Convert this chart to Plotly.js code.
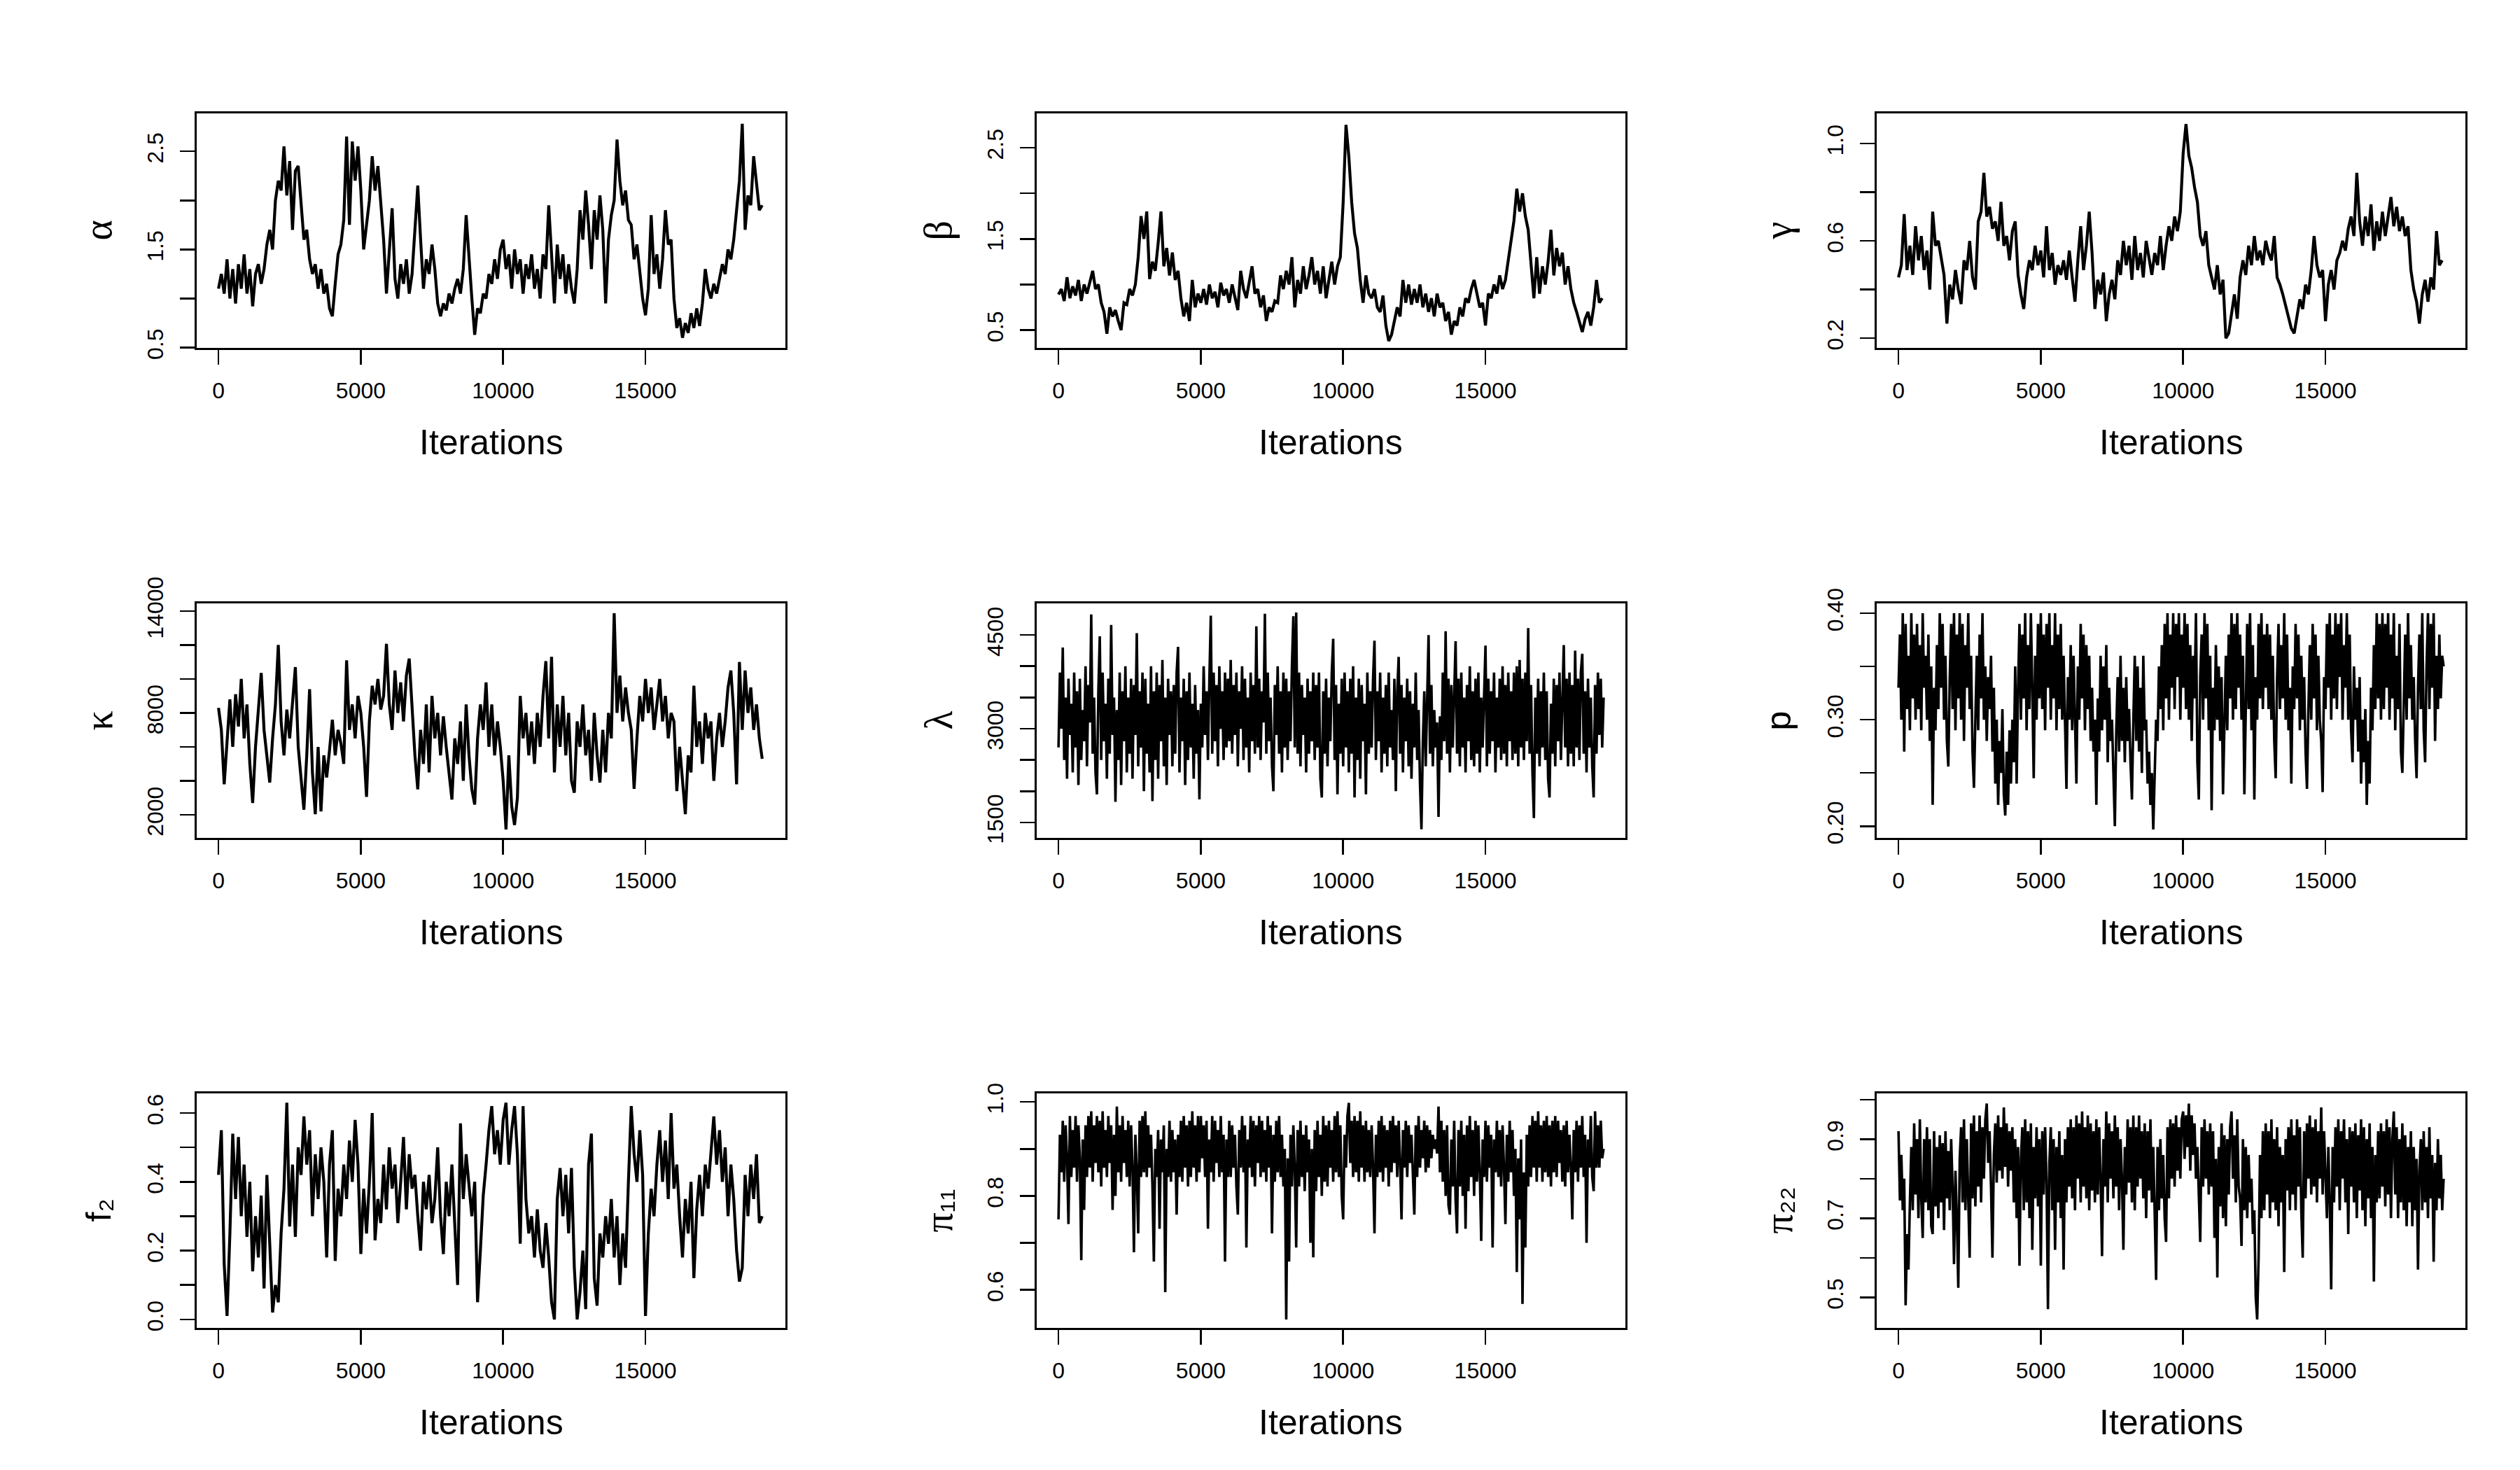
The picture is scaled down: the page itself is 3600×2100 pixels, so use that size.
<!DOCTYPE html>
<html>
<head>
<meta charset="utf-8">
<script src="https://cdn.plot.ly/plotly-3.0.1.min.js"></script>
<style>html,body{margin:0;padding:0;background:#fff;}#chart{width:3600px;height:2100px;}</style>
</head>
<body>
<div id="chart"></div>
<script>
// iterations between stored samples, per panel (alpha..pi22)
const thinning = [100, 100, 100, 100, 50, 50, 100, 50, 50];

const alpha = [
1.10,1.25,1.05,1.40,1.00,1.30,0.95,1.35,1.10,1.45,
1.05,1.30,0.92,1.25,1.35,1.15,1.30,1.55,1.70,1.50,
2.00,2.20,2.10,2.55,2.05,2.40,1.70,2.30,2.35,2.00,
1.60,1.70,1.40,1.25,1.35,1.10,1.30,1.05,1.15,0.90,
0.82,1.15,1.45,1.55,1.80,2.65,1.75,2.60,2.20,2.55,
2.10,1.50,1.75,2.00,2.45,2.10,2.35,1.95,1.60,1.05,
1.45,1.92,1.20,1.00,1.35,1.15,1.40,1.05,1.25,1.75,
2.15,1.60,1.10,1.40,1.25,1.55,1.30,0.95,0.82,0.95,
0.88,1.05,0.95,1.10,1.20,1.05,1.30,1.85,1.40,1.00,
0.63,0.90,0.85,1.05,1.00,1.25,1.15,1.40,1.20,1.50,
1.60,1.30,1.45,1.10,1.50,1.25,1.40,1.05,1.35,1.20,
1.45,1.10,1.30,1.00,1.45,1.30,1.95,1.50,0.95,1.55,
1.20,1.45,1.05,1.35,1.10,0.95,1.30,1.90,1.60,2.10,
1.75,1.30,1.90,1.60,2.05,1.70,0.95,1.60,1.85,2.00,
2.62,2.20,1.95,2.10,1.80,1.75,1.40,1.55,1.30,1.00,
0.83,1.10,1.85,1.25,1.45,1.10,1.40,1.90,1.55,1.60,
1.00,0.70,0.80,0.60,0.75,0.65,0.85,0.70,0.90,0.72,
0.95,1.30,1.10,1.00,1.15,1.05,1.20,1.35,1.25,1.50,
1.40,1.60,1.90,2.20,2.78,1.70,2.05,1.95,2.45,2.20,
1.90,1.95];

const beta = [
0.89,0.95,0.82,1.08,0.85,0.98,0.88,1.05,0.82,1.00,
0.90,1.02,1.15,0.95,1.00,0.80,0.70,0.46,0.75,0.65,
0.72,0.60,0.50,0.80,0.78,0.95,0.88,1.00,1.30,1.75,
1.50,1.80,1.06,1.25,1.15,1.45,1.80,1.20,1.40,1.10,
1.35,1.05,1.15,0.85,0.65,0.80,0.60,1.05,0.75,0.90,
0.80,0.95,0.78,1.00,0.85,0.92,0.75,1.02,0.88,0.95,
0.80,1.00,0.85,0.72,1.15,0.95,0.85,1.05,1.20,0.90,
0.95,0.75,0.88,0.60,0.75,0.70,0.82,0.80,1.10,0.95,
1.15,1.00,1.30,0.75,1.05,0.90,1.20,0.95,1.10,1.30,
1.00,1.15,0.90,1.20,0.85,1.05,1.25,1.00,1.20,1.30,
1.90,2.75,2.40,1.90,1.56,1.40,1.05,0.80,1.10,0.90,
0.85,0.95,0.75,0.70,0.88,0.55,0.38,0.45,0.60,0.75,
0.65,1.05,0.80,1.00,0.78,0.95,0.80,1.00,0.75,0.90,
0.70,0.85,0.65,0.90,0.75,0.80,0.60,0.70,0.45,0.60,
0.55,0.75,0.65,0.85,0.80,0.95,1.05,0.90,0.75,0.80,
0.55,0.90,0.85,1.00,0.90,1.10,0.95,1.05,1.25,1.45,
1.70,2.05,1.80,2.00,1.75,1.60,1.20,0.85,1.30,0.90,
1.20,1.00,1.25,1.60,1.10,1.40,1.20,1.35,1.00,1.20,
0.95,0.80,0.70,0.60,0.48,0.62,0.70,0.55,0.75,1.05,
0.80,0.85];

const gamma = [
0.45,0.50,0.71,0.48,0.58,0.46,0.66,0.52,0.62,0.48,
0.56,0.40,0.72,0.58,0.60,0.52,0.46,0.26,0.42,0.36,
0.48,0.40,0.34,0.52,0.48,0.60,0.45,0.40,0.68,0.72,
0.88,0.70,0.74,0.65,0.68,0.60,0.76,0.58,0.62,0.52,
0.64,0.68,0.46,0.38,0.32,0.45,0.52,0.48,0.58,0.50,
0.56,0.45,0.66,0.48,0.55,0.42,0.50,0.46,0.52,0.44,
0.56,0.45,0.35,0.52,0.66,0.48,0.58,0.72,0.55,0.32,
0.44,0.38,0.47,0.27,0.38,0.44,0.36,0.52,0.46,0.60,
0.50,0.58,0.44,0.62,0.48,0.55,0.45,0.60,0.52,0.46,
0.55,0.50,0.62,0.48,0.58,0.66,0.60,0.70,0.64,0.72,
0.96,1.08,0.95,0.90,0.82,0.76,0.62,0.58,0.64,0.50,
0.45,0.40,0.50,0.38,0.44,0.20,0.22,0.30,0.38,0.28,
0.45,0.52,0.46,0.58,0.50,0.62,0.52,0.56,0.50,0.60,
0.55,0.52,0.62,0.45,0.42,0.38,0.33,0.28,0.24,0.22,
0.30,0.36,0.32,0.42,0.38,0.48,0.62,0.50,0.45,0.48,
0.27,0.42,0.48,0.40,0.52,0.55,0.60,0.56,0.65,0.70,
0.62,0.88,0.68,0.58,0.70,0.62,0.75,0.56,0.68,0.60,
0.72,0.62,0.70,0.78,0.66,0.74,0.64,0.70,0.62,0.66,
0.48,0.40,0.35,0.26,0.38,0.44,0.35,0.45,0.40,0.64,
0.50,0.52];

const kappa = [
8300,7000,3800,6500,8800,6000,9100,7200,10000,6500,
8500,5000,2700,6000,8000,10350,7000,5500,3900,6500,
8500,12000,7500,5500,8200,6500,8800,10700,6000,4000,
2300,5500,9400,4500,2040,6000,2200,5500,4200,5800,
7600,5500,7000,6200,5000,11100,7000,8500,6500,9000,
8000,6000,3060,7500,9600,8500,10000,8200,9000,12070,
8500,7000,10500,8000,9800,7500,10200,11200,8500,5500,
3500,7000,5000,8500,4500,9000,6500,8000,5500,7800,
6000,4500,2900,6500,5000,7500,4000,8500,5500,3500,
2600,6500,8500,7000,9800,6000,8500,5500,7500,6000,
4000,1140,5500,2500,1400,3000,9000,6500,8000,5500,
7500,5000,8000,6000,9000,11050,6500,11300,4500,8500,
6000,9000,5500,8000,4000,3300,7500,6000,8500,5500,
7000,4000,8000,5500,3900,7000,4500,8000,6500,13870,
8000,10200,7500,9500,8000,7000,3530,6500,9000,7500,
10000,8000,9500,7000,8500,10000,7500,9000,6500,8000,
7500,3400,6000,4000,2040,5500,4500,9600,6000,7500,
5000,8000,6500,7500,4000,6500,8000,6000,7500,9500,
10500,8000,3800,11000,7000,10500,8000,9500,7000,8500,
6500,5300];

const lambda = [
2700,3900,3000,4300,2500,3500,2200,3800,2900,3400,2300,3900,2700,3600,2100,3800,2500,3300,2800,4000,
2400,3700,3100,4830,2600,3500,2300,1950,3600,4480,2500,3900,2800,3400,2200,3800,2600,4660,2900,3500,
1830,3300,2500,3900,2100,3600,2800,4000,2300,3500,2600,3800,2200,3700,2900,4530,2400,3600,2700,3900,
2000,3800,2600,3400,2300,4000,1840,3600,2500,3900,2200,3700,2800,4100,2400,3500,2100,3800,2900,3600,
2400,3700,2600,3900,4310,2300,3500,2800,3800,2100,3600,2500,3900,2700,3400,2200,3700,2600,3300,1870,
3400,2700,4000,2900,3600,2500,3800,4810,2600,3900,2800,3700,2400,4000,3000,3600,2500,3900,2700,3800,
2800,4100,2600,3700,2900,3900,2400,3600,3000,4000,2500,3800,2700,3500,2300,3900,2800,3700,2600,4640,
2700,3800,2500,3600,3100,4840,2600,3900,2800,3500,2400,2000,3700,2900,4000,2600,3600,2300,3900,2700,
3800,2500,3600,2800,4000,4800,2700,4860,2600,3900,2400,3700,2900,3500,2300,3800,2600,3600,2800,3900,
2500,3700,2700,3900,2200,1900,3600,2600,3800,2400,3500,2800,3900,4440,2500,3700,1950,3400,2600,3800,
2400,3900,2700,3600,2300,3800,2600,4000,1900,3500,2500,3800,2200,3700,2800,3400,1950,3900,2600,3600,
2700,3800,4410,2500,3600,2800,3900,2300,3500,2600,3700,2400,3900,2700,3300,2500,3800,2000,3600,4150,
2600,3700,2300,3500,2800,3800,2400,3600,2200,3400,2700,3900,2500,3300,2100,1390,2800,3600,2400,3500,
4500,2600,3700,2400,3300,2700,3100,1590,3200,2500,3900,2800,4560,2600,3800,2300,3700,2700,3500,4400,
2600,3800,2400,3900,2700,3500,2300,3700,2800,4000,2500,3600,2400,3800,2600,3900,2300,3500,2700,3700,
4330,2400,3800,2600,3600,2800,3900,2300,3500,2700,3800,2500,4000,2600,3700,2400,3900,2800,3600,2500,
3900,2600,4000,2400,4100,2700,3800,2500,3900,2800,4610,2600,3700,2300,1570,3500,2600,3800,2400,3600,
2700,3900,2500,3600,2200,1900,3400,2600,3800,2400,3700,2800,3900,2500,3600,4340,2700,3800,2400,3900,
2600,3700,2400,4250,2700,3800,2500,3900,4200,2600,3600,2300,3800,2700,3500,2400,1900,3700,2600,3900,
2900,3800,2700,3500];

const pVals = [
0.33,0.38,0.30,0.40,0.27,0.39,0.31,0.36,0.29,0.40,0.32,0.38,0.30,0.39,0.31,0.37,0.29,0.40,0.33,0.36,
0.30,0.38,0.28,0.35,0.22,0.33,0.29,0.37,0.31,0.40,0.33,0.39,0.30,0.36,0.28,0.256,0.34,0.39,0.31,0.40,
0.29,0.38,0.32,0.40,0.30,0.39,0.28,0.37,0.33,0.40,0.31,0.36,0.27,0.236,0.30,0.36,0.29,0.38,0.32,0.40,
0.30,0.35,0.28,0.34,0.31,0.36,0.27,0.33,0.24,0.30,0.22,0.28,0.25,0.31,0.23,0.21,0.27,0.22,0.29,0.24,
0.30,0.26,0.35,0.24,0.33,0.39,0.30,0.38,0.32,0.40,0.29,0.37,0.31,0.40,0.33,0.245,0.36,0.30,0.39,0.32,
0.40,0.31,0.38,0.29,0.39,0.33,0.40,0.30,0.37,0.32,0.40,0.29,0.38,0.31,0.39,0.30,0.36,0.28,0.235,0.34,
0.30,0.37,0.29,0.36,0.31,0.24,0.35,0.30,0.39,0.32,0.38,0.29,0.37,0.31,0.36,0.28,0.33,0.27,0.30,0.22,
0.32,0.27,0.36,0.29,0.35,0.30,0.37,0.26,0.33,0.28,0.30,0.24,0.20,0.29,0.34,0.27,0.36,0.28,0.33,0.26,
0.34,0.28,0.31,0.26,0.225,0.30,0.36,0.28,0.35,0.27,0.33,0.25,0.36,0.29,0.30,0.24,0.27,0.22,0.25,0.197,
0.24,0.30,0.28,0.35,0.31,0.37,0.29,0.39,0.32,0.40,0.30,0.38,0.33,0.40,0.31,0.39,0.34,0.40,0.30,0.38,
0.33,0.40,0.31,0.39,0.30,0.37,0.28,0.36,0.32,0.40,0.26,0.225,0.34,0.38,0.30,0.40,0.32,0.39,0.29,0.36,
0.215,0.33,0.29,0.37,0.30,0.35,0.28,0.34,0.23,0.31,0.36,0.29,0.38,0.32,0.40,0.30,0.39,0.31,0.40,0.33,
0.38,0.30,0.36,0.23,0.33,0.39,0.31,0.40,0.29,0.37,0.225,0.34,0.30,0.39,0.32,0.40,0.31,0.38,0.33,0.39,
0.31,0.38,0.30,0.36,0.28,0.245,0.34,0.39,0.31,0.37,0.32,0.40,0.30,0.38,0.29,0.33,0.24,0.35,0.31,0.39,
0.32,0.38,0.29,0.36,0.30,0.34,0.27,0.235,0.31,0.37,0.30,0.39,0.32,0.38,0.29,0.36,0.30,0.28,0.232,0.34,
0.31,0.39,0.33,0.40,0.30,0.38,0.32,0.40,0.31,0.39,0.34,0.40,0.30,0.37,0.33,0.40,0.30,0.38,0.29,0.26,
0.35,0.30,0.33,0.27,0.34,0.24,0.30,0.26,0.31,0.22,0.28,0.24,0.33,0.29,0.37,0.31,0.40,0.32,0.39,0.30,
0.40,0.31,0.39,0.33,0.40,0.30,0.38,0.32,0.40,0.29,0.36,0.31,0.39,0.27,0.25,0.33,0.38,0.30,0.40,0.32,
0.37,0.30,0.34,0.28,0.245,0.33,0.38,0.31,0.40,0.29,0.26,0.35,0.40,0.31,0.39,0.33,0.40,0.28,0.36,0.31,
0.38,0.32,0.36,0.35];

const f2 = [
0.42,0.55,0.16,0.01,0.25,0.54,0.35,0.53,0.30,0.45,
0.24,0.40,0.14,0.30,0.18,0.36,0.09,0.42,0.22,0.02,
0.10,0.05,0.25,0.38,0.63,0.27,0.45,0.24,0.50,0.42,
0.59,0.45,0.55,0.30,0.48,0.35,0.50,0.40,0.18,0.45,
0.55,0.17,0.38,0.30,0.45,0.35,0.52,0.40,0.58,0.45,
0.19,0.38,0.25,0.40,0.60,0.23,0.35,0.28,0.45,0.32,
0.50,0.38,0.45,0.28,0.40,0.53,0.32,0.48,0.38,0.42,
0.30,0.20,0.40,0.32,0.42,0.28,0.35,0.50,0.30,0.19,
0.40,0.30,0.45,0.28,0.10,0.57,0.35,0.48,0.40,0.30,
0.40,0.05,0.20,0.36,0.45,0.55,0.62,0.48,0.55,0.45,
0.58,0.63,0.45,0.55,0.62,0.48,0.22,0.62,0.35,0.25,
0.30,0.18,0.32,0.20,0.15,0.28,0.18,0.05,0.00,0.35,
0.44,0.30,0.42,0.25,0.44,0.15,0.00,0.08,0.20,0.03,
0.45,0.54,0.12,0.04,0.25,0.18,0.30,0.22,0.35,0.18,
0.30,0.10,0.25,0.15,0.40,0.62,0.48,0.40,0.55,0.42,
0.01,0.25,0.38,0.30,0.45,0.55,0.40,0.52,0.35,0.60,
0.38,0.45,0.30,0.18,0.35,0.25,0.40,0.12,0.32,0.42,
0.30,0.45,0.38,0.50,0.59,0.45,0.55,0.40,0.50,0.30,
0.45,0.35,0.20,0.11,0.15,0.42,0.30,0.45,0.35,0.48,
0.28,0.30];

const pi11 = [
0.75,0.93,0.85,0.96,0.83,0.95,0.88,0.74,0.97,0.84,0.94,0.86,0.97,0.83,0.95,0.88,0.663,0.92,0.77,0.95,
0.84,0.97,0.86,0.98,0.83,0.95,0.87,0.97,0.85,0.96,0.82,0.98,0.86,0.94,0.84,0.97,0.87,0.95,0.77,0.93,
0.80,0.99,0.85,0.95,0.83,0.97,0.87,0.94,0.84,0.96,0.82,0.95,0.86,0.68,0.93,0.85,0.72,0.96,0.84,0.97,
0.85,0.98,0.84,0.95,0.86,0.93,0.82,0.66,0.90,0.84,0.94,0.73,0.92,0.85,0.95,0.595,0.90,0.84,0.96,0.83,
0.94,0.85,0.92,0.76,0.93,0.84,0.96,0.83,0.97,0.86,0.95,0.82,0.96,0.84,0.98,0.86,0.95,0.83,0.97,0.85,
0.97,0.88,0.95,0.84,0.96,0.73,0.92,0.85,0.97,0.83,0.96,0.87,0.94,0.84,0.97,0.85,0.93,0.66,0.92,0.84,
0.96,0.84,0.95,0.86,0.93,0.82,0.76,0.94,0.86,0.97,0.85,0.95,0.69,0.92,0.86,0.97,0.84,0.96,0.82,0.95,
0.87,0.97,0.84,0.96,0.85,0.94,0.83,0.97,0.86,0.95,0.72,0.93,0.83,0.96,0.85,0.97,0.84,0.93,0.82,0.90,
0.537,0.88,0.66,0.93,0.82,0.95,0.86,0.69,0.94,0.82,0.96,0.84,0.93,0.81,0.95,0.85,0.92,0.70,0.90,0.669,
0.94,0.81,0.96,0.84,0.93,0.80,0.97,0.83,0.95,0.82,0.96,0.86,0.94,0.83,0.97,0.85,0.98,0.84,0.95,0.80,
0.75,0.93,0.86,0.97,0.998,0.87,0.96,0.84,0.97,0.85,0.96,0.83,0.98,0.86,0.95,0.83,0.96,0.85,0.94,0.84,
0.95,0.86,0.72,0.93,0.84,0.96,0.85,0.97,0.83,0.95,0.86,0.94,0.82,0.96,0.85,0.97,0.87,0.95,0.84,0.96,
0.87,0.75,0.94,0.86,0.96,0.84,0.95,0.87,0.93,0.85,0.76,0.95,0.84,0.97,0.86,0.94,0.88,0.96,0.85,0.95,
0.86,0.94,0.88,0.93,0.90,0.92,0.89,0.99,0.85,0.96,0.83,0.94,0.80,0.95,0.78,0.76,0.92,0.82,0.96,0.79,
0.72,0.94,0.82,0.96,0.80,0.93,0.73,0.95,0.81,0.97,0.84,0.94,0.80,0.96,0.83,0.95,0.85,0.704,0.92,0.84,
0.96,0.83,0.95,0.86,0.93,0.69,0.92,0.85,0.96,0.84,0.94,0.82,0.95,0.86,0.74,0.93,0.83,0.96,0.85,0.94,
0.80,0.90,0.638,0.88,0.75,0.92,0.57,0.85,0.69,0.93,0.82,0.95,0.84,0.97,0.86,0.96,0.83,0.98,0.86,0.95,
0.83,0.96,0.85,0.97,0.84,0.95,0.82,0.96,0.85,0.97,0.84,0.96,0.87,0.94,0.83,0.95,0.82,0.96,0.85,0.93,
0.86,0.75,0.94,0.85,0.96,0.83,0.95,0.86,0.97,0.84,0.93,0.70,0.92,0.86,0.97,0.84,0.81,0.98,0.86,0.95,
0.86,0.96,0.88,0.90];

const pi22 = [
0.92,0.745,0.86,0.72,0.80,0.48,0.66,0.57,0.74,0.88,0.72,0.94,0.76,0.90,0.70,0.95,0.75,0.65,0.90,0.74,
0.93,0.72,0.90,0.68,0.66,0.92,0.73,0.88,0.70,0.91,0.74,0.89,0.67,0.92,0.75,0.87,0.72,0.90,0.78,0.584,
0.82,0.70,0.524,0.85,0.93,0.74,0.95,0.72,0.90,0.76,0.60,0.94,0.75,0.96,0.73,0.92,0.78,0.96,0.74,0.93,
0.80,0.95,0.99,0.84,0.92,0.78,0.60,0.86,0.94,0.79,0.96,0.82,0.93,0.80,0.98,0.83,0.94,0.78,0.92,0.82,
0.93,0.74,0.90,0.70,0.88,0.58,0.85,0.93,0.72,0.95,0.74,0.92,0.70,0.94,0.62,0.88,0.75,0.93,0.73,0.90,
0.58,0.92,0.76,0.93,0.80,0.47,0.84,0.93,0.72,0.90,0.62,0.88,0.74,0.92,0.70,0.86,0.57,0.90,0.74,0.93,
0.78,0.95,0.75,0.93,0.72,0.96,0.80,0.94,0.74,0.97,0.78,0.93,0.75,0.96,0.72,0.94,0.77,0.92,0.74,0.95,
0.76,0.93,0.80,0.604,0.90,0.78,0.97,0.74,0.94,0.80,0.92,0.75,0.96,0.78,0.93,0.72,0.90,0.80,0.62,0.88,
0.76,0.95,0.79,0.93,0.74,0.96,0.72,0.93,0.78,0.96,0.80,0.92,0.75,0.94,0.70,0.92,0.77,0.95,0.74,0.88,
0.70,0.544,0.88,0.72,0.90,0.75,0.86,0.70,0.64,0.93,0.75,0.95,0.80,0.94,0.78,0.96,0.82,0.93,0.80,0.95,
0.97,0.85,0.96,0.88,0.99,0.82,0.96,0.86,0.94,0.80,0.88,0.76,0.64,0.93,0.78,0.95,0.80,0.92,0.76,0.94,
0.78,0.92,0.65,0.85,0.55,0.88,0.73,0.94,0.70,0.91,0.68,0.90,0.76,0.93,0.97,0.80,0.91,0.74,0.95,0.78,
0.75,0.63,0.90,0.72,0.88,0.70,0.86,0.74,0.80,0.66,0.72,0.50,0.444,0.60,0.86,0.70,0.92,0.72,0.94,0.76,
0.92,0.70,0.95,0.74,0.90,0.72,0.93,0.68,0.88,0.74,0.86,0.564,0.90,0.77,0.93,0.72,0.95,0.76,0.91,0.72,
0.95,0.78,0.93,0.72,0.60,0.92,0.75,0.94,0.80,0.96,0.76,0.93,0.78,0.95,0.74,0.92,0.80,0.98,0.76,0.92,
0.82,0.70,0.88,0.74,0.52,0.88,0.74,0.93,0.78,0.95,0.72,0.92,0.80,0.95,0.74,0.90,0.66,0.93,0.78,0.92,
0.74,0.94,0.70,0.91,0.77,0.95,0.72,0.93,0.68,0.90,0.75,0.94,0.70,0.88,0.54,0.86,0.74,0.92,0.75,0.94,
0.78,0.92,0.73,0.95,0.76,0.93,0.70,0.90,0.97,0.76,0.93,0.70,0.90,0.74,0.94,0.72,0.91,0.68,0.88,0.74,
0.92,0.68,0.88,0.72,0.85,0.57,0.82,0.90,0.72,0.92,0.74,0.88,0.70,0.93,0.75,0.86,0.59,0.84,0.72,0.90,
0.75,0.86,0.72,0.80];

// axis labels and ticks
const xTickVals = [0, 5000, 10000, 15000];
const xTitle = 'Iterations';
const yGreek = ['α', 'β', 'γ', 'κ', 'λ', '', '', 'π', 'π'];
const yPlain = ['', '', '', '', '', 'p', 'f₂', '₁₁', '₂₂'];
// labelled ticks
const yTickVals = [
  [0.5, 1.5, 2.5],
  [0.5, 1.5, 2.5],
  [0.2, 0.6, 1.0],
  [2000, 8000, 14000],
  [1500, 3000, 4500],
  [0.20, 0.30, 0.40],
  [0.0, 0.2, 0.4, 0.6],
  [0.6, 0.8, 1.0],
  [0.5, 0.7, 0.9]
];
const yTickText = [
  ['0.5', '1.5', '2.5'],
  ['0.5', '1.5', '2.5'],
  ['0.2', '0.6', '1.0'],
  ['2000', '8000', '14000'],
  ['1500', '3000', '4500'],
  ['0.20', '0.30', '0.40'],
  ['0.0', '0.2', '0.4', '0.6'],
  ['0.6', '0.8', '1.0'],
  ['0.5', '0.7', '0.9']
];
// unlabelled ticks in between
const yMinorVals = [
  [1.0, 2.0],
  [1.0, 2.0],
  [0.4, 0.8],
  [4000, 6000, 10000, 12000],
  [2000, 2500, 3500, 4000],
  [0.25, 0.35],
  [0.1, 0.3, 0.5],
  [0.7, 0.9],
  [0.6, 0.8, 1.0]
];
const yRanges = [
  [0.497, 2.886], [0.305, 2.876], [0.160, 1.124],
  [640, 14450], [1253, 5006], [0.189, 0.4092],
  [-0.0247, 0.657], [0.519, 1.018], [0.4227, 1.0156]
];
const series = [alpha, beta, gamma, kappa, lambda, pVals, f2, pi11, pi22];

const W = 3600, H = 2100;
const cellW = 1200, cellH = 700;
const boxL = 281, boxR = 1122, boxT = 162, boxB = 497;
const xRange = [-765, 19916];

const data = [];
const layout = {
  width: W, height: H,
  margin: {l: 0, r: 0, t: 0, b: 0, pad: 0},
  paper_bgcolor: '#fff', plot_bgcolor: '#fff',
  showlegend: false,
  annotations: []
};
const sans = 'Liberation Sans, Arial, DejaVu Sans, sans-serif';
const tickFont = {family: sans, size: 32, color: '#000'};

series.forEach((vals, k) => {
  const col = k % 3, row = Math.floor(k / 3);
  const sfx = k === 0 ? '' : String(k + 1);
  const xs = vals.map((_, i) => 1 + i * thinning[k]);
  data.push({
    x: xs, y: vals, type: 'scatter', mode: 'lines',
    xaxis: 'x' + sfx, yaxis: 'y' + sfx,
    line: {color: '#000', width: thinning[k] === 50 ? 3.6 : 4.2},
    hoverinfo: 'skip'
  });
  const x0 = (boxL + col * cellW) / W, x1 = (boxR + col * cellW) / W;
  const y1 = 1 - (boxT + row * cellH) / H, y0 = 1 - (boxB + row * cellH) / H;
  const common = {
    showline: true, mirror: true, linecolor: '#000', linewidth: 2.6,
    ticks: 'outside', ticklen: 21, tickwidth: 2.6, tickcolor: '#000',
    showgrid: false, zeroline: false, tickfont: tickFont, fixedrange: true
  };
  layout['xaxis' + sfx] = Object.assign({}, common, {
    domain: [x0, x1], range: xRange, anchor: 'y' + sfx,
    tickmode: 'array', tickvals: xTickVals, ticktext: xTickVals.map(String),
    ticklabelstandoff: 10
  });
  layout['yaxis' + sfx] = Object.assign({}, common, {
    domain: [y0, y1], range: yRanges[k], anchor: 'x' + sfx,
    tickmode: 'array', tickvals: yTickVals[k], ticktext: yTickText[k],
    tickangle: -90, ticklabelstandoff: 12,
    minor: {tickmode: 'array', tickvals: yMinorVals[k], ticks: 'outside',
            ticklen: 21, tickwidth: 2.6, tickcolor: '#000', showgrid: false}
  });
  // x title
  layout.annotations.push({
    xref: 'paper', yref: 'paper',
    x: ((boxL + boxR) / 2 + col * cellW) / W,
    y: 1 - (632 + row * cellH) / H,
    xanchor: 'center', yanchor: 'middle', showarrow: false,
    text: xTitle,
    font: {family: sans, size: 50, color: '#000'}
  });
  // y title: Greek letter in a serif face, the rest in sans
  let txt = '';
  if (yGreek[k]) txt += '<span style="font-family:Liberation Serif;font-size:56px">' + yGreek[k] + '</span>';
  if (yPlain[k]) txt += yPlain[k];
  layout.annotations.push({
    xref: 'paper', yref: 'paper',
    x: (140 + col * cellW) / W,
    y: 1 - ((boxT + boxB) / 2 + row * cellH) / H,
    xanchor: 'center', yanchor: 'middle', showarrow: false,
    textangle: -90,
    text: txt,
    font: {family: sans, size: 50, color: '#000'}
  });
});

Plotly.newPlot('chart', data, layout, {displayModeBar: false, staticPlot: true});
</script>
</body>
</html>
